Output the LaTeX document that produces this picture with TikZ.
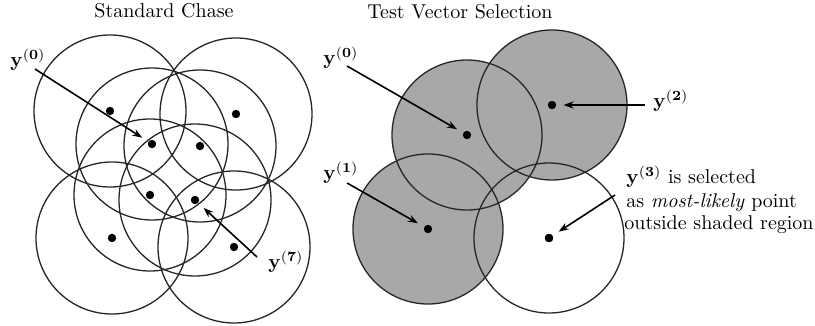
\documentclass[tikz,border=0pt]{standalone}
\usetikzlibrary{arrows.meta}
\definecolor{shadegray}{RGB}{168,168,168}
\begin{document}
\begin{tikzpicture}[x=0.5pt,y=-0.5pt,
  ring/.style={draw=black!85,line width=0.65pt},
  dotnode/.style={circle,fill=black,inner sep=0pt,minimum size=4.2pt},
  arr/.style={-{Stealth[length=5pt,width=3.6pt]},line width=0.8pt,shorten >=3.5pt},
  lbl/.style={inner sep=0pt,anchor=base west}]
\useasboundingbox (0,0) rectangle (815,326);
% ---------- Left: Standard Chase ----------
\node[anchor=base] (t1) at (164,18) {Standard Chase};
\node[dotnode] (c1) at (110,111) {};
\node[dotnode] (c2) at (236,114) {};
\node[dotnode] (c3) at (152,144) {};
\node[dotnode] (c4) at (200,146) {};
\node[dotnode] (c5) at (150,195) {};
\node[dotnode] (c6) at (195,200) {};
\node[dotnode] (c7) at (112,238) {};
\node[dotnode] (c8) at (234,247) {};
\foreach \n in {c1,c2,c3,c4,c5,c6,c7,c8}
  \draw[ring] (\n) circle[radius=38pt];
\node[lbl] (l0) at (10,67) {$\mathbf{y^{(0)}}$};
\node[lbl] (l7) at (268,269) {$\mathbf{y^{(7)}}$};
\coordinate (s0) at (35,69);
\coordinate (s7) at (257,257);
\draw[arr] (s0) -- (c3);
\draw[arr] (s7) -- (c6);
% ---------- Right: Test Vector Selection ----------
\node[anchor=base] (t2) at (460,19) {Test Vector Selection};
\node[dotnode] (rA) at (467,135) {};
\node[dotnode] (rB) at (552,105) {};
\node[dotnode] (rC) at (428,229) {};
\node[dotnode] (rD) at (549,238) {};
\fill[shadegray] (rA) circle[radius=37.5pt];
\fill[shadegray] (rB) circle[radius=37.5pt];
\fill[shadegray] (rC) circle[radius=37.5pt];
\foreach \n in {rA,rB,rC,rD}
  \draw[ring] (\n) circle[radius=37.5pt];
\foreach \n in {rA,rB,rC,rD}
  \node[dotnode] at (\n) {};
\node[lbl] (r0) at (323,65) {$\mathbf{y^{(0)}}$};
\node[lbl] (r1) at (323,180) {$\mathbf{y^{(1)}}$};
\node[lbl] (r2) at (653,108) {$\mathbf{y^{(2)}}$};
\node[lbl] (r3a) at (626,184) {$\mathbf{y^{(3)}}$ is selected};
\node[lbl] (r3b) at (626,207) {as \emph{most-likely} point};
\node[lbl] (r3c) at (624,229) {outside shaded region};
\coordinate (sr0) at (347,66);
\coordinate (sr1) at (347,183);
\coordinate (sr2) at (645,105);
\coordinate (sr3) at (615,195);
\draw[arr] (sr0) -- (rA);
\draw[arr] (sr1) -- (rC);
\draw[arr] (sr2) -- (rB);
\draw[arr] (sr3) -- (rD);
\end{tikzpicture}
\end{document}
